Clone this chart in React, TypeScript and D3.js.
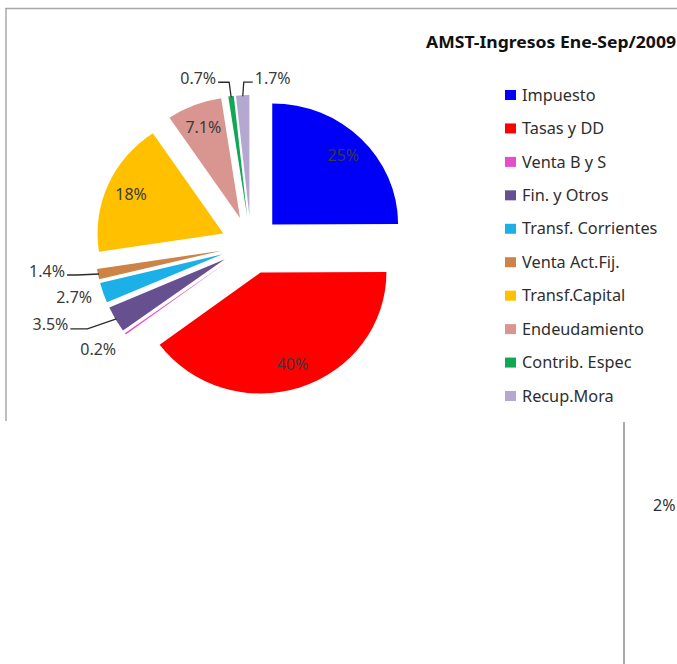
import * as d3 from 'd3';

const categories = [
  'Impuesto',
  'Tasas y DD',
  'Venta B y S',
  'Fin. y Otros',
  'Transf. Corrientes',
  'Venta Act.Fij.',
  'Transf.Capital',
  'Endeudamiento',
  'Contrib. Espec',
  'Recup.Mora',
];
const shares = [25, 40, 0.2, 3.5, 2.7, 1.4, 18, 7.1, 0.7, 1.7];
const sliceLabels = ['25%', '40%', '0.2%', '3.5%', '2.7%', '1.4%', '18%', '7.1%', '0.7%', '1.7%'];
const colors = [
  '#0000f8', '#ff0000', '#e64dc8', '#66508f', '#1cb0e8',
  '#cd8246', '#ffc000', '#d9958f', '#10a855', '#b4a7d0',
];
const title = 'AMST-Ingresos Ene-Sep/2009';

// label placement for the thin slices (relative to the slice's outer edge point)
const outsideLabels: Record<string, { dx: number; dy: number; anchor: 'start' | 'end'; elbow?: number }> = {
  'Venta B y S': { dx: -10, dy: 16, anchor: 'end' },
  'Fin. y Otros': { dx: -48, dy: 6, anchor: 'end', elbow: 19 },
  'Transf. Corrientes': { dx: -12, dy: 5, anchor: 'end' },
  'Venta Act.Fij.': { dx: -34, dy: -3, anchor: 'end', elbow: 12 },
  'Contrib. Espec': { dx: -15, dy: -19, anchor: 'end', elbow: 13 },
  'Recup.Mora': { dx: 12, dy: -18, anchor: 'start', elbow: 11 },
};

const W = 677;
const H = 664;
const cx = 251;
const cy = 245;
const R = 121;
const sx = 1.04; // the screenshot is a bit wider than tall
const explode = 29;
const font = '"Noto Sans", sans-serif';

export default function App() {
  const pie = d3.pie<number>().sort(null).value(d => d)(shares);
  const arc = d3.arc<d3.PieArcDatum<number>>().innerRadius(0).outerRadius(R);
  const shift = d3.arc<d3.PieArcDatum<number>>().innerRadius(explode).outerRadius(explode);
  const inner = d3.arc<d3.PieArcDatum<number>>().innerRadius(R * 0.8).outerRadius(R * 0.8);
  const edge = d3.arc<d3.PieArcDatum<number>>().innerRadius(R - 1).outerRadius(R - 1);

  const toPage = (p: [number, number], q: [number, number]) =>
    [cx + sx * (p[0] + q[0]), cy + p[1] + q[1]] as [number, number];

  const legendY = d3.scalePoint<string>().domain(categories).range([95, 396]);

  return (
    <svg width={W} height={H} style={{ position: 'absolute', left: 0, top: 0, background: '#fff' }}>
      {/* chart frame */}
      <line x1={5} y1={8.5} x2={W} y2={8.5} stroke="#a8a8a8" strokeWidth={1.5} />
      <line x1={6} y1={8} x2={6} y2={421} stroke="#a8a8a8" strokeWidth={1.5} />
      <line x1={624} y1={422} x2={624} y2={H} stroke="#8e8e8e" strokeWidth={1.5} />
      <text x={653} y={511} fontFamily={font} fontSize={16} fill="#303030">2%</text>

      {pie.map((d, i) => {
        const o = shift.centroid(d);
        return (
          <path
            key={categories[i]}
            d={arc(d) ?? ''}
            fill={colors[i]}
            transform={`translate(${cx + sx * o[0]},${cy + o[1]}) scale(${sx},1)`}
          />
        );
      })}

      {pie.map((d, i) => {
        const o = shift.centroid(d) as [number, number];
        const cat = categories[i];
        const out = outsideLabels[cat];
        if (!out) {
          const [x, y] = toPage(o, inner.centroid(d) as [number, number]);
          return (
            <text key={cat} x={x} y={y} dy="0.35em" textAnchor="middle" fontFamily={font} fontSize={16} fill="#3a3a3a">
              {sliceLabels[i]}
            </text>
          );
        }
        const [ex, ey] = toPage(o, edge.centroid(d) as [number, number]);
        const tx = ex + out.dx;
        const ty = ey + out.dy;
        const sign = out.anchor === 'end' ? 1 : -1;
        const ly = ty + 4;
        return (
          <g key={cat}>
            {out.elbow !== undefined && (
              <polyline
                points={`${ex},${ey} ${tx + sign * out.elbow},${ly} ${tx + sign * 2},${ly}`}
                fill="none"
                stroke="#2a2a2a"
                strokeWidth={1.3}
              />
            )}
            <text x={tx} y={ty} dy="0.35em" textAnchor={out.anchor} fontFamily={font} fontSize={16} fill="#3a3a3a">
              {sliceLabels[i]}
            </text>
          </g>
        );
      })}

      <text x={426} y={48} fontFamily={font} fontWeight="bold" fontSize={16.5} fill="#111" textLength={250} lengthAdjust="spacingAndGlyphs">
        {title}
      </text>

      {categories.map((c, i) => {
        const y = legendY(c) ?? 0;
        return (
          <g key={c}>
            <rect x={505} y={y - 5} width={11} height={10} fill={colors[i]} />
            <text x={522} y={y} dy="0.35em" fontFamily={font} fontSize={16.3} fill="#2e2e2e">
              {c}
            </text>
          </g>
        );
      })}
    </svg>
  );
}
